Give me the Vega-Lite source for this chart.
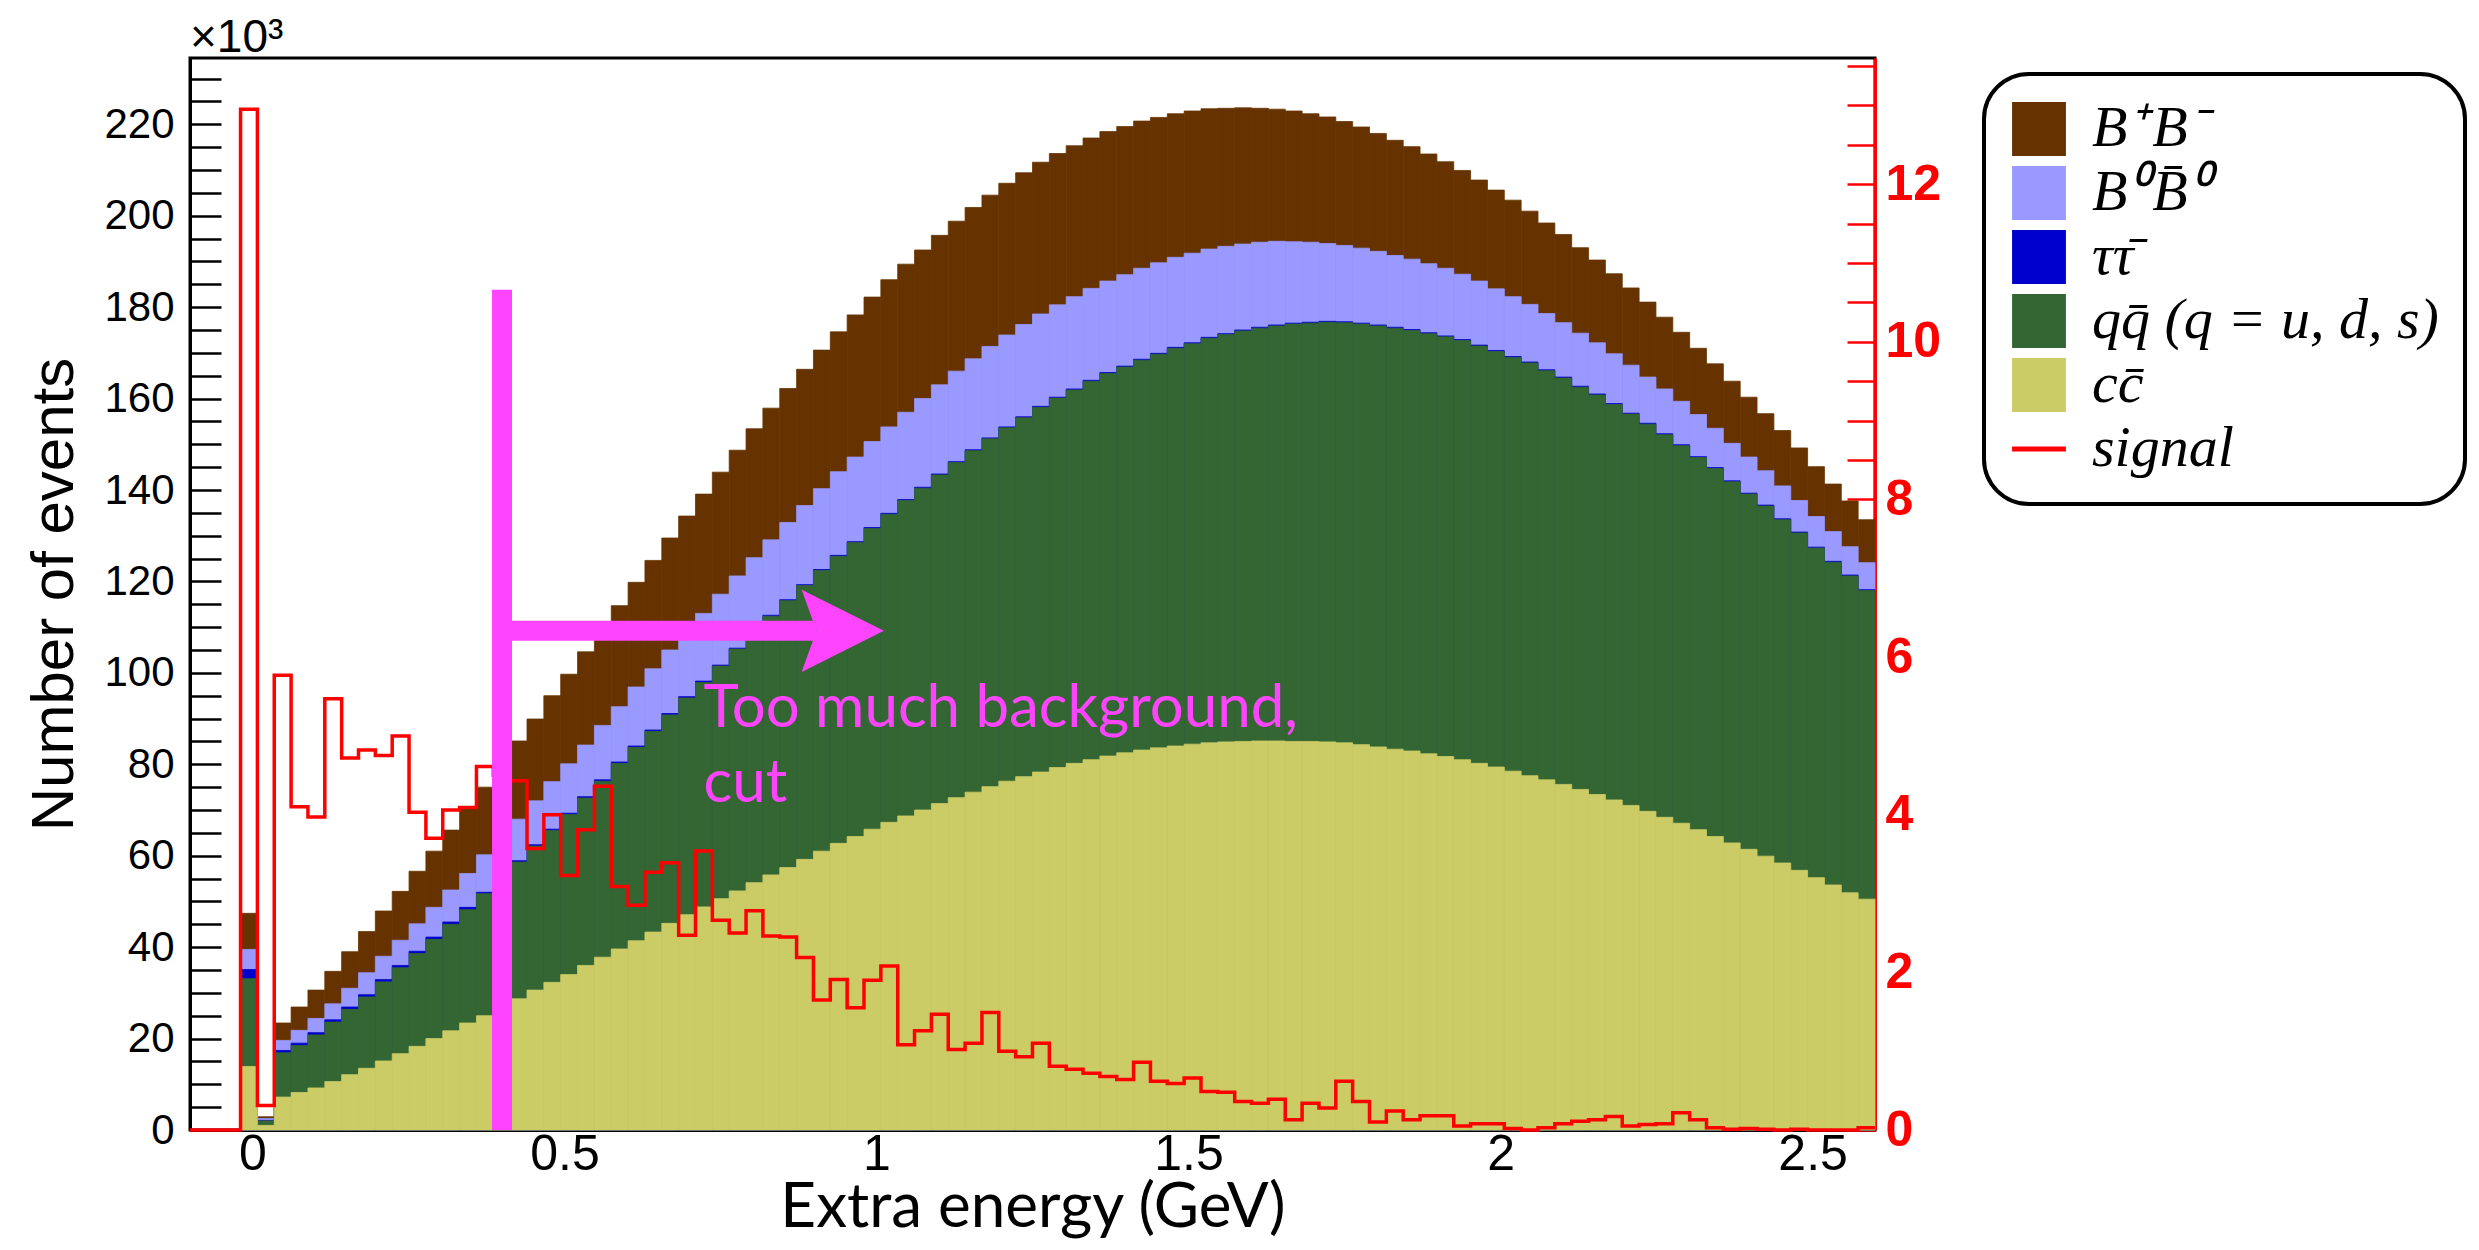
{
"$schema": "https://vega.github.io/schema/vega-lite/v6.json",
"width": 1685, "height": 1072,
"autosize": {"type": "none"},
"padding": {"left": 190, "top": 58, "right": 604, "bottom": 120},
"background": "white",
"config": {
  "view": {"stroke": "black", "strokeWidth": 3},
  "axis": {"grid": false, "labelOverlap": false, "labelFlush": false, "labelBound": false, "zindex": 1}
},
"datasets": {
"bins": [
{"lo":-0.019,"hi":0.008,"BpBm":47.4,"B0B0bar":39.5,"tautau":35.1,"qqbar":33.1,"ccbar":13.9},
{"lo":0.008,"hi":0.035,"BpBm":2.9,"B0B0bar":2.5,"tautau":2.1,"qqbar":2.0,"ccbar":1.0},
{"lo":0.035,"hi":0.062,"BpBm":23.4,"B0B0bar":19.6,"tautau":17.4,"qqbar":16.9,"ccbar":7.2},
{"lo":0.062,"hi":0.089,"BpBm":26.9,"B0B0bar":21.8,"tautau":19.0,"qqbar":18.5,"ccbar":8.2},
{"lo":0.089,"hi":0.116,"BpBm":30.6,"B0B0bar":24.4,"tautau":21.3,"qqbar":20.8,"ccbar":9.2},
{"lo":0.116,"hi":0.143,"BpBm":34.7,"B0B0bar":27.6,"tautau":24.1,"qqbar":23.6,"ccbar":10.6},
{"lo":0.143,"hi":0.17,"BpBm":39.0,"B0B0bar":31.0,"tautau":26.9,"qqbar":26.4,"ccbar":12.1},
{"lo":0.17,"hi":0.197,"BpBm":43.4,"B0B0bar":34.4,"tautau":29.6,"qqbar":29.1,"ccbar":13.5},
{"lo":0.197,"hi":0.224,"BpBm":47.9,"B0B0bar":38.0,"tautau":32.9,"qqbar":32.4,"ccbar":15.1},
{"lo":0.224,"hi":0.251,"BpBm":52.2,"B0B0bar":41.5,"tautau":36.0,"qqbar":35.5,"ccbar":16.7},
{"lo":0.251,"hi":0.278,"BpBm":56.6,"B0B0bar":45.1,"tautau":39.1,"qqbar":38.6,"ccbar":18.3},
{"lo":0.278,"hi":0.305,"BpBm":61.0,"B0B0bar":48.7,"tautau":42.2,"qqbar":41.7,"ccbar":20.0},
{"lo":0.305,"hi":0.332,"BpBm":65.6,"B0B0bar":52.5,"tautau":45.5,"qqbar":45.0,"ccbar":21.7},
{"lo":0.332,"hi":0.359,"BpBm":70.3,"B0B0bar":56.1,"tautau":48.7,"qqbar":48.2,"ccbar":23.4},
{"lo":0.359,"hi":0.386,"BpBm":75.0,"B0B0bar":60.2,"tautau":52.0,"qqbar":51.7,"ccbar":25.0},
{"lo":0.386,"hi":0.413,"BpBm":80.0,"B0B0bar":64.1,"tautau":55.5,"qqbar":55.2,"ccbar":26.9},
{"lo":0.413,"hi":0.44,"BpBm":85.1,"B0B0bar":68.0,"tautau":58.9,"qqbar":58.6,"ccbar":28.7},
{"lo":0.44,"hi":0.467,"BpBm":89.9,"B0B0bar":72.0,"tautau":62.4,"qqbar":62.1,"ccbar":30.6},
{"lo":0.467,"hi":0.494,"BpBm":95.0,"B0B0bar":76.2,"tautau":65.8,"qqbar":65.5,"ccbar":32.3},
{"lo":0.494,"hi":0.521,"BpBm":99.7,"B0B0bar":80.1,"tautau":69.3,"qqbar":69.0,"ccbar":34.0},
{"lo":0.521,"hi":0.548,"BpBm":104.6,"B0B0bar":84.2,"tautau":72.9,"qqbar":72.6,"ccbar":36.0},
{"lo":0.548,"hi":0.575,"BpBm":109.5,"B0B0bar":88.5,"tautau":76.6,"qqbar":76.3,"ccbar":37.8},
{"lo":0.575,"hi":0.602,"BpBm":114.7,"B0B0bar":92.6,"tautau":80.5,"qqbar":80.2,"ccbar":39.6},
{"lo":0.602,"hi":0.629,"BpBm":119.8,"B0B0bar":96.9,"tautau":84.0,"qqbar":83.7,"ccbar":41.4},
{"lo":0.629,"hi":0.656,"BpBm":124.6,"B0B0bar":100.9,"tautau":87.5,"qqbar":87.2,"ccbar":43.3},
{"lo":0.656,"hi":0.683,"BpBm":129.5,"B0B0bar":105.0,"tautau":91.1,"qqbar":90.8,"ccbar":45.2},
{"lo":0.683,"hi":0.71,"BpBm":134.3,"B0B0bar":109.1,"tautau":94.8,"qqbar":94.5,"ccbar":47.1},
{"lo":0.71,"hi":0.737,"BpBm":139.1,"B0B0bar":113.0,"tautau":98.2,"qqbar":97.9,"ccbar":48.8},
{"lo":0.737,"hi":0.764,"BpBm":143.9,"B0B0bar":117.2,"tautau":101.7,"qqbar":101.5,"ccbar":50.6},
{"lo":0.764,"hi":0.791,"BpBm":148.7,"B0B0bar":121.2,"tautau":105.4,"qqbar":105.2,"ccbar":52.3},
{"lo":0.791,"hi":0.818,"BpBm":153.4,"B0B0bar":125.2,"tautau":109.1,"qqbar":108.9,"ccbar":54.1},
{"lo":0.818,"hi":0.845,"BpBm":157.9,"B0B0bar":129.1,"tautau":112.6,"qqbar":112.4,"ccbar":55.8},
{"lo":0.845,"hi":0.872,"BpBm":162.2,"B0B0bar":132.9,"tautau":116.0,"qqbar":115.8,"ccbar":57.4},
{"lo":0.872,"hi":0.899,"BpBm":166.4,"B0B0bar":136.6,"tautau":119.3,"qqbar":119.1,"ccbar":59.2},
{"lo":0.899,"hi":0.926,"BpBm":170.6,"B0B0bar":140.3,"tautau":122.6,"qqbar":122.4,"ccbar":61.0},
{"lo":0.926,"hi":0.953,"BpBm":174.6,"B0B0bar":144.0,"tautau":125.7,"qqbar":125.5,"ccbar":62.7},
{"lo":0.953,"hi":0.98,"BpBm":178.3,"B0B0bar":147.2,"tautau":128.7,"qqbar":128.5,"ccbar":64.2},
{"lo":0.98,"hi":1.007,"BpBm":182.2,"B0B0bar":150.6,"tautau":131.8,"qqbar":131.6,"ccbar":65.8},
{"lo":1.007,"hi":1.034,"BpBm":186.0,"B0B0bar":153.8,"tautau":134.9,"qqbar":134.7,"ccbar":67.3},
{"lo":1.034,"hi":1.061,"BpBm":189.4,"B0B0bar":157.0,"tautau":137.9,"qqbar":137.7,"ccbar":68.7},
{"lo":1.061,"hi":1.088,"BpBm":192.5,"B0B0bar":160.0,"tautau":140.6,"qqbar":140.4,"ccbar":70.0},
{"lo":1.088,"hi":1.115,"BpBm":195.7,"B0B0bar":163.0,"tautau":143.5,"qqbar":143.3,"ccbar":71.4},
{"lo":1.115,"hi":1.142,"BpBm":198.8,"B0B0bar":166.0,"tautau":146.2,"qqbar":146.0,"ccbar":72.7},
{"lo":1.142,"hi":1.169,"BpBm":201.8,"B0B0bar":168.7,"tautau":148.8,"qqbar":148.6,"ccbar":73.9},
{"lo":1.169,"hi":1.196,"BpBm":204.5,"B0B0bar":171.4,"tautau":151.4,"qqbar":151.2,"ccbar":75.1},
{"lo":1.196,"hi":1.223,"BpBm":207.1,"B0B0bar":173.9,"tautau":153.8,"qqbar":153.6,"ccbar":76.3},
{"lo":1.223,"hi":1.25,"BpBm":209.4,"B0B0bar":176.2,"tautau":156.0,"qqbar":155.8,"ccbar":77.3},
{"lo":1.25,"hi":1.277,"BpBm":211.7,"B0B0bar":178.5,"tautau":158.3,"qqbar":158.1,"ccbar":78.3},
{"lo":1.277,"hi":1.304,"BpBm":213.6,"B0B0bar":180.5,"tautau":160.3,"qqbar":160.1,"ccbar":79.3},
{"lo":1.304,"hi":1.331,"BpBm":215.3,"B0B0bar":182.3,"tautau":162.1,"qqbar":161.9,"ccbar":80.2},
{"lo":1.331,"hi":1.358,"BpBm":217.0,"B0B0bar":184.1,"tautau":164.0,"qqbar":163.8,"ccbar":81.0},
{"lo":1.358,"hi":1.385,"BpBm":218.4,"B0B0bar":185.7,"tautau":165.7,"qqbar":165.5,"ccbar":81.8},
{"lo":1.385,"hi":1.412,"BpBm":219.5,"B0B0bar":187.1,"tautau":167.1,"qqbar":166.9,"ccbar":82.5},
{"lo":1.412,"hi":1.439,"BpBm":220.7,"B0B0bar":188.5,"tautau":168.6,"qqbar":168.4,"ccbar":83.1},
{"lo":1.439,"hi":1.466,"BpBm":221.5,"B0B0bar":189.7,"tautau":169.9,"qqbar":169.7,"ccbar":83.6},
{"lo":1.466,"hi":1.493,"BpBm":222.3,"B0B0bar":190.9,"tautau":171.2,"qqbar":171.0,"ccbar":84.0},
{"lo":1.493,"hi":1.52,"BpBm":222.9,"B0B0bar":191.8,"tautau":172.2,"qqbar":172.0,"ccbar":84.4},
{"lo":1.52,"hi":1.547,"BpBm":223.4,"B0B0bar":192.7,"tautau":173.4,"qqbar":173.2,"ccbar":84.7},
{"lo":1.547,"hi":1.574,"BpBm":223.5,"B0B0bar":193.3,"tautau":174.2,"qqbar":174.0,"ccbar":84.9},
{"lo":1.574,"hi":1.601,"BpBm":223.6,"B0B0bar":193.8,"tautau":175.0,"qqbar":174.8,"ccbar":85.0},
{"lo":1.601,"hi":1.628,"BpBm":223.5,"B0B0bar":194.2,"tautau":175.6,"qqbar":175.4,"ccbar":85.1},
{"lo":1.628,"hi":1.655,"BpBm":223.3,"B0B0bar":194.4,"tautau":176.1,"qqbar":175.9,"ccbar":85.1},
{"lo":1.655,"hi":1.682,"BpBm":222.9,"B0B0bar":194.3,"tautau":176.5,"qqbar":176.3,"ccbar":85.0},
{"lo":1.682,"hi":1.709,"BpBm":222.3,"B0B0bar":194.2,"tautau":176.7,"qqbar":176.5,"ccbar":85.0},
{"lo":1.709,"hi":1.736,"BpBm":221.6,"B0B0bar":193.9,"tautau":176.9,"qqbar":176.7,"ccbar":84.9},
{"lo":1.736,"hi":1.763,"BpBm":220.6,"B0B0bar":193.5,"tautau":176.8,"qqbar":176.6,"ccbar":84.7},
{"lo":1.763,"hi":1.79,"BpBm":219.4,"B0B0bar":192.9,"tautau":176.5,"qqbar":176.3,"ccbar":84.3},
{"lo":1.79,"hi":1.817,"BpBm":218.0,"B0B0bar":192.2,"tautau":176.1,"qqbar":175.9,"ccbar":83.8},
{"lo":1.817,"hi":1.844,"BpBm":216.5,"B0B0bar":191.3,"tautau":175.6,"qqbar":175.4,"ccbar":83.3},
{"lo":1.844,"hi":1.871,"BpBm":215.1,"B0B0bar":190.5,"tautau":175.1,"qqbar":174.9,"ccbar":82.9},
{"lo":1.871,"hi":1.898,"BpBm":213.5,"B0B0bar":189.5,"tautau":174.4,"qqbar":174.2,"ccbar":82.3},
{"lo":1.898,"hi":1.925,"BpBm":211.8,"B0B0bar":188.5,"tautau":173.7,"qqbar":173.5,"ccbar":81.7},
{"lo":1.925,"hi":1.952,"BpBm":209.9,"B0B0bar":187.2,"tautau":172.9,"qqbar":172.7,"ccbar":81.0},
{"lo":1.952,"hi":1.979,"BpBm":207.8,"B0B0bar":185.7,"tautau":171.7,"qqbar":171.5,"ccbar":80.2},
{"lo":1.979,"hi":2.006,"BpBm":205.6,"B0B0bar":184.0,"tautau":170.5,"qqbar":170.3,"ccbar":79.4},
{"lo":2.006,"hi":2.033,"BpBm":203.4,"B0B0bar":182.3,"tautau":169.2,"qqbar":169.0,"ccbar":78.5},
{"lo":2.033,"hi":2.06,"BpBm":201.0,"B0B0bar":180.6,"tautau":168.0,"qqbar":167.8,"ccbar":77.5},
{"lo":2.06,"hi":2.087,"BpBm":198.4,"B0B0bar":178.6,"tautau":166.3,"qqbar":166.1,"ccbar":76.6},
{"lo":2.087,"hi":2.114,"BpBm":195.9,"B0B0bar":176.6,"tautau":164.7,"qqbar":164.5,"ccbar":75.6},
{"lo":2.114,"hi":2.141,"BpBm":193.0,"B0B0bar":174.3,"tautau":162.7,"qqbar":162.5,"ccbar":74.5},
{"lo":2.141,"hi":2.168,"BpBm":190.3,"B0B0bar":172.2,"tautau":161.0,"qqbar":160.8,"ccbar":73.4},
{"lo":2.168,"hi":2.195,"BpBm":187.3,"B0B0bar":169.8,"tautau":158.9,"qqbar":158.7,"ccbar":72.2},
{"lo":2.195,"hi":2.222,"BpBm":184.2,"B0B0bar":167.3,"tautau":156.8,"qqbar":156.6,"ccbar":71.0},
{"lo":2.222,"hi":2.249,"BpBm":181.1,"B0B0bar":164.7,"tautau":154.6,"qqbar":154.4,"ccbar":69.7},
{"lo":2.249,"hi":2.276,"BpBm":177.8,"B0B0bar":162.1,"tautau":152.3,"qqbar":152.1,"ccbar":68.4},
{"lo":2.276,"hi":2.303,"BpBm":174.5,"B0B0bar":159.4,"tautau":149.9,"qqbar":149.7,"ccbar":67.1},
{"lo":2.303,"hi":2.33,"BpBm":171.0,"B0B0bar":156.5,"tautau":147.3,"qqbar":147.1,"ccbar":65.7},
{"lo":2.33,"hi":2.357,"BpBm":167.6,"B0B0bar":153.5,"tautau":144.9,"qqbar":144.7,"ccbar":64.2},
{"lo":2.357,"hi":2.384,"BpBm":163.8,"B0B0bar":150.2,"tautau":142.0,"qqbar":141.8,"ccbar":62.8},
{"lo":2.384,"hi":2.411,"BpBm":160.3,"B0B0bar":147.2,"tautau":139.3,"qqbar":139.1,"ccbar":61.4},
{"lo":2.411,"hi":2.438,"BpBm":156.7,"B0B0bar":144.2,"tautau":136.7,"qqbar":136.5,"ccbar":59.9},
{"lo":2.438,"hi":2.465,"BpBm":153.0,"B0B0bar":140.9,"tautau":133.7,"qqbar":133.5,"ccbar":58.4},
{"lo":2.465,"hi":2.492,"BpBm":149.2,"B0B0bar":137.7,"tautau":130.8,"qqbar":130.6,"ccbar":56.8},
{"lo":2.492,"hi":2.519,"BpBm":145.1,"B0B0bar":134.2,"tautau":127.5,"qqbar":127.3,"ccbar":55.2},
{"lo":2.519,"hi":2.546,"BpBm":141.3,"B0B0bar":130.9,"tautau":124.4,"qqbar":124.2,"ccbar":53.6},
{"lo":2.546,"hi":2.573,"BpBm":137.6,"B0B0bar":127.6,"tautau":121.4,"qqbar":121.2,"ccbar":51.9},
{"lo":2.573,"hi":2.6,"BpBm":133.5,"B0B0bar":124.1,"tautau":118.2,"qqbar":118.0,"ccbar":50.5}
],
"signal": [
{"e":-0.1,"s":0},{"e":-0.019,"s":12.95},{"e":0.008,"s":0.31},{"e":0.035,"s":5.77},{"e":0.062,"s":4.10},{"e":0.089,"s":3.97},{"e":0.116,"s":5.47},{"e":0.143,"s":4.72},{"e":0.17,"s":4.82},{"e":0.197,"s":4.75},{"e":0.224,"s":5.00},{"e":0.251,"s":4.03},{"e":0.278,"s":3.70},{"e":0.305,"s":4.06},{"e":0.332,"s":4.09},{"e":0.359,"s":4.61},{"e":0.386,"s":4.50},{"e":0.413,"s":4.43},{"e":0.44,"s":3.57},{"e":0.467,"s":4.00},{"e":0.494,"s":3.23},{"e":0.521,"s":3.81},{"e":0.548,"s":4.36},{"e":0.575,"s":3.09},{"e":0.602,"s":2.85},{"e":0.629,"s":3.27},{"e":0.656,"s":3.39},{"e":0.683,"s":2.47},{"e":0.71,"s":3.54},{"e":0.737,"s":2.66},{"e":0.764,"s":2.50},{"e":0.791,"s":2.78},{"e":0.818,"s":2.46},{"e":0.845,"s":2.45},{"e":0.872,"s":2.19},{"e":0.899,"s":1.65},{"e":0.926,"s":1.91},{"e":0.953,"s":1.55},{"e":0.98,"s":1.90},{"e":1.007,"s":2.08},{"e":1.034,"s":1.08},{"e":1.061,"s":1.26},{"e":1.088,"s":1.47},{"e":1.115,"s":1.02},{"e":1.142,"s":1.10},{"e":1.169,"s":1.49},{"e":1.196,"s":1.00},{"e":1.223,"s":0.93},{"e":1.25,"s":1.10},{"e":1.277,"s":0.81},{"e":1.304,"s":0.77},{"e":1.331,"s":0.72},{"e":1.358,"s":0.68},{"e":1.385,"s":0.64},{"e":1.412,"s":0.86},{"e":1.439,"s":0.62},{"e":1.466,"s":0.59},{"e":1.493,"s":0.66},{"e":1.52,"s":0.49},{"e":1.547,"s":0.48},{"e":1.574,"s":0.36},{"e":1.601,"s":0.34},{"e":1.628,"s":0.39},{"e":1.655,"s":0.13},{"e":1.682,"s":0.34},{"e":1.709,"s":0.28},{"e":1.736,"s":0.62},{"e":1.763,"s":0.36},{"e":1.79,"s":0.10},{"e":1.817,"s":0.24},{"e":1.844,"s":0.13},{"e":1.871,"s":0.18},{"e":1.898,"s":0.18},{"e":1.925,"s":0.05},{"e":1.952,"s":0.08},{"e":1.979,"s":0.08},{"e":2.006,"s":0.02},{"e":2.033,"s":0.0},{"e":2.06,"s":0.03},{"e":2.087,"s":0.08},{"e":2.114,"s":0.11},{"e":2.141,"s":0.13},{"e":2.168,"s":0.17},{"e":2.195,"s":0.05},{"e":2.222,"s":0.07},{"e":2.249,"s":0.08},{"e":2.276,"s":0.22},{"e":2.303,"s":0.13},{"e":2.33,"s":0.03},{"e":2.357,"s":0.01},{"e":2.384,"s":0.02},{"e":2.411,"s":0.01},{"e":2.438,"s":0.0},{"e":2.465,"s":0.01},{"e":2.492,"s":0.0},{"e":2.519,"s":0.0},{"e":2.546,"s":0.0},{"e":2.573,"s":0.03},{"e":2.6,"s":0.03}
]
},
"layer": [
{
  "data": {"name": "bins"},
  "transform": [{"fold": ["BpBm"], "as": ["component", "stack_top"]}],
  "mark": {"type": "bar", "strokeWidth": 0.8},
  "encoding": {
    "x": {"field": "lo", "type": "quantitative", "scale": {"domain": [-0.1, 2.6], "nice": false, "zero": false},
      "axis": {"title": "Extra energy (GeV)", "values": [0,0.1,0.2,0.3,0.4,0.5,0.6,0.7,0.8,0.9,1,1.1,1.2,1.3,1.4,1.5,1.6,1.7,1.8,1.9,2,2.1,2.2,2.3,2.4,2.5],
        "labelExpr": "abs(datum.value*2 - round(datum.value*2)) < 0.001 ? format(datum.value, '~g') : ''",
        "tickSize": -13, "labelPadding": 12, "tickColor": "black", "tickWidth": 2.5, "domainColor": "black", "domainWidth": 3,
        "labelFont": "Liberation Sans", "labelFontSize": 50, "labelColor": "black",
        "titleFont": "Lato", "titleFontSize": 62, "titleFontWeight": "normal", "titleColor": "black", "titlePadding": -2,
        "encode": {"ticks": {
          "update": {"y2": {"signal": "abs(datum.value*2 - round(datum.value*2)) < 0.001 ? -26 : -13"}},
          "y2": {"value": {"expr": "abs(datum.value*2 - round(datum.value*2)) < 0.001 ? -26 : -13"}}}}}},
    "x2": {"field": "hi"},
    "y": {"field": "stack_top", "type": "quantitative", "stack": null, "scale": {"domain": [0, 234.5], "nice": false, "zero": true},
      "axis": {"orient": "left", "title": "Number of events", "values": [0,5,10,15,20,25,30,35,40,45,50,55,60,65,70,75,80,85,90,95,100,105,110,115,120,125,130,135,140,145,150,155,160,165,170,175,180,185,190,195,200,205,210,215,220,225,230],
        "labelExpr": "datum.value % 20 === 0 ? format(datum.value, 'd') : ''",
        "tickSize": -31, "labelPadding": 47, "tickColor": "black", "tickWidth": 2.5, "domainColor": "black", "domainWidth": 3,
        "labelFont": "Liberation Sans", "labelFontSize": 42, "labelColor": "black",
        "titleFont": "Liberation Sans", "titleFontSize": 60, "titleFontWeight": "normal", "titleColor": "black", "titlePadding": 18,
        "encode": {"ticks": {
          "update": {"x2": {"signal": "datum.value % 20 === 0 ? 62 : 31"}},
          "x2": {"value": {"expr": "datum.value % 20 === 0 ? 62 : 31"}}}}}},
    "y2": {"datum": 0},
    "color": {"field": "component", "type": "nominal",
      "scale": {"domain": ["BpBm", "B0B0bar", "tautau", "qqbar", "ccbar", "signal"], "range": ["#663300", "#9999FF", "#0000CC", "#336633", "#CCCC66", "#FF0000"]},
      "legend": {"orient": "none", "legendX": 1794, "legendY": 16, "title": null, "direction": "vertical",
        "padding": 26, "cornerRadius": 45, "strokeColor": "black", "fillColor": "white", "rowPadding": 6,
        "symbolSize": 2900, "labelOffset": 24, "labelLimit": 0,
        "labelFont": "Liberation Serif", "labelFontStyle": "italic", "labelFontSize": 58, "labelColor": "black",
        "labelExpr": "datum.value === 'BpBm' ? 'B⁺\u200aB⁻' : datum.value === 'B0B0bar' ? 'B⁰\u200aB̄⁰' : datum.value === 'tautau' ? 'ττ̄' : datum.value === 'qqbar' ? 'qq̄ (q = u, d, s)' : datum.value === 'ccbar' ? 'cc̄' : 'signal'",
        "encode": {
          "legend": {"update": {"strokeWidth": {"value": 4}}, "strokeWidth": {"value": 4}},
          "symbols": {"update": {
            "shape": {"signal": "datum.value === 'signal' ? 'stroke' : 'square'"},
            "fill": {"signal": "datum.value === 'signal' ? 'transparent' : scale('color', datum.value)"},
            "stroke": {"signal": "scale('color', datum.value)"},
            "strokeWidth": {"signal": "datum.value === 'signal' ? 5 : 0"},
            "size": {"value": 2900},
            "opacity": {"value": 1}},
            "shape": {"value": {"expr": "datum.value === 'signal' ? 'stroke' : 'square'"}},
            "fill": {"value": {"expr": "datum.value === 'signal' ? 'transparent' : scale('color', datum.value)"}},
            "stroke": {"value": {"expr": "scale('color', datum.value)"}},
            "strokeWidth": {"value": {"expr": "datum.value === 'signal' ? 5 : 0"}},
            "size": {"value": 2900},
            "opacity": {"value": 1}}}}},
    "stroke": {"field": "component", "type": "nominal", "legend": null,
      "scale": {"domain": ["BpBm", "B0B0bar", "tautau", "qqbar", "ccbar"], "range": ["#663300", "#9999FF", "#0000CC", "#336633", "#CCCC66"]}}
  }
},
{
  "data": {"name": "bins"},
  "transform": [{"fold": ["B0B0bar"], "as": ["component", "stack_top"]}],
  "mark": {"type": "bar", "strokeWidth": 0.8},
  "encoding": {
    "x": {"field": "lo", "type": "quantitative", "scale": {"domain": [-0.1, 2.6], "nice": false, "zero": false}},
    "x2": {"field": "hi"},
    "y": {"field": "stack_top", "type": "quantitative", "stack": null, "scale": {"domain": [0, 234.5], "nice": false, "zero": true}, "axis": null},
    "y2": {"datum": 0},
    "color": {"field": "component", "type": "nominal"},
    "stroke": {"field": "component", "type": "nominal", "legend": null}
  }
},
{
  "data": {"name": "bins"},
  "transform": [{"fold": ["tautau"], "as": ["component", "stack_top"]}],
  "mark": {"type": "bar", "strokeWidth": 0.8},
  "encoding": {
    "x": {"field": "lo", "type": "quantitative", "scale": {"domain": [-0.1, 2.6], "nice": false, "zero": false}},
    "x2": {"field": "hi"},
    "y": {"field": "stack_top", "type": "quantitative", "stack": null, "scale": {"domain": [0, 234.5], "nice": false, "zero": true}, "axis": null},
    "y2": {"datum": 0},
    "color": {"field": "component", "type": "nominal"},
    "stroke": {"field": "component", "type": "nominal", "legend": null}
  }
},
{
  "data": {"name": "bins"},
  "transform": [{"fold": ["qqbar"], "as": ["component", "stack_top"]}],
  "mark": {"type": "bar", "strokeWidth": 0.8},
  "encoding": {
    "x": {"field": "lo", "type": "quantitative", "scale": {"domain": [-0.1, 2.6], "nice": false, "zero": false}},
    "x2": {"field": "hi"},
    "y": {"field": "stack_top", "type": "quantitative", "stack": null, "scale": {"domain": [0, 234.5], "nice": false, "zero": true}, "axis": null},
    "y2": {"datum": 0},
    "color": {"field": "component", "type": "nominal"},
    "stroke": {"field": "component", "type": "nominal", "legend": null}
  }
},
{
  "data": {"name": "bins"},
  "transform": [{"fold": ["ccbar"], "as": ["component", "stack_top"]}],
  "mark": {"type": "bar", "strokeWidth": 0.8},
  "encoding": {
    "x": {"field": "lo", "type": "quantitative", "scale": {"domain": [-0.1, 2.6], "nice": false, "zero": false}},
    "x2": {"field": "hi"},
    "y": {"field": "stack_top", "type": "quantitative", "stack": null, "scale": {"domain": [0, 234.5], "nice": false, "zero": true}, "axis": null},
    "y2": {"datum": 0},
    "color": {"field": "component", "type": "nominal"},
    "stroke": {"field": "component", "type": "nominal", "legend": null}
  }
},
{
  "data": {"name": "signal"},
  "mark": {"type": "line", "interpolate": "step-after", "strokeWidth": 3.5, "strokeJoin": "miter", "strokeCap": "butt"},
  "encoding": {
    "x": {"field": "e", "type": "quantitative", "scale": {"domain": [-0.1, 2.6], "nice": false, "zero": false}},
    "y": {"field": "s", "type": "quantitative", "scale": {"domain": [0, 13.6], "nice": false, "zero": true},
      "axis": {"orient": "right", "title": null, "values": [0,0.5,1,1.5,2,2.5,3,3.5,4,4.5,5,5.5,6,6.5,7,7.5,8,8.5,9,9.5,10,10.5,11,11.5,12,12.5,13,13.5],
        "labelExpr": "datum.value % 2 === 0 ? format(datum.value, 'd') : ''",
        "tickSize": -28, "labelPadding": 38, "tickColor": "#FF0000", "tickWidth": 2.5, "domainColor": "#FF0000", "domainWidth": 3,
        "labelFont": "Liberation Sans", "labelFontSize": 50, "labelFontWeight": "bold", "labelColor": "#FF0000",
        "encode": {"ticks": {
          "update": {"x2": {"signal": "datum.value % 2 === 0 ? -60 : -28"}},
          "x2": {"value": {"expr": "datum.value % 2 === 0 ? -60 : -28"}}}}}},
    "color": {"datum": "signal", "type": "nominal"}
  }
},
{
  "layer": [
    {
      "data": {"values": [{"cut": 0.4, "k0": 0, "k1": 183.8}]},
      "mark": {"type": "rule", "color": "#FF44FF", "strokeWidth": 20, "strokeCap": "butt"},
      "encoding": {
        "x": {"field": "cut", "type": "quantitative", "scale": {"domain": [-0.1, 2.6], "nice": false, "zero": false}},
        "y": {"field": "k0", "type": "quantitative", "scale": {"domain": [0, 234.5], "nice": false, "zero": true}, "axis": null},
        "y2": {"field": "k1"}
      }
    },
    {
      "data": {"values": [{"x0": 0.4, "x1": 0.904, "k": 109.2}]},
      "mark": {"type": "rule", "color": "#FF44FF", "strokeWidth": 20, "strokeCap": "butt"},
      "encoding": {
        "x": {"field": "x0", "type": "quantitative", "scale": {"domain": [-0.1, 2.6], "nice": false, "zero": false}},
        "x2": {"field": "x1"},
        "y": {"field": "k", "type": "quantitative", "scale": {"domain": [0, 234.5], "nice": false, "zero": true}, "axis": null}
      }
    },
    {
      "data": {"values": [{"xt": 0.946, "k": 109.2}]},
      "mark": {"type": "point", "shape": "M-1,-1L1,0L-1,1L-0.64,0Z", "filled": true, "color": "#FF44FF", "opacity": 1, "size": 6760, "strokeWidth": 0},
      "encoding": {
        "x": {"field": "xt", "type": "quantitative", "scale": {"domain": [-0.1, 2.6], "nice": false, "zero": false}},
        "y": {"field": "k", "type": "quantitative", "scale": {"domain": [0, 234.5], "nice": false, "zero": true}, "axis": null}
      }
    },
    {
      "data": {"values": [{"t": "Too much background,", "xt": 0.723, "k": 88.25}, {"t": "cut", "xt": 0.723, "k": 71.8}]},
      "mark": {"type": "text", "align": "left", "baseline": "alphabetic", "font": "Lato", "fontSize": 60, "color": "#FF44FF"},
      "encoding": {
        "x": {"field": "xt", "type": "quantitative", "scale": {"domain": [-0.1, 2.6], "nice": false, "zero": false}},
        "y": {"field": "k", "type": "quantitative", "scale": {"domain": [0, 234.5], "nice": false, "zero": true}, "axis": null},
        "text": {"field": "t"}
      }
    },
    {
      "data": {"values": [{"t": "×10³", "xt": -0.1, "k": 234.5}]},
      "mark": {"type": "text", "align": "left", "baseline": "alphabetic", "dy": -6, "font": "Liberation Sans", "fontSize": 46, "color": "black"},
      "encoding": {
        "x": {"field": "xt", "type": "quantitative", "scale": {"domain": [-0.1, 2.6], "nice": false, "zero": false}},
        "y": {"field": "k", "type": "quantitative", "scale": {"domain": [0, 234.5], "nice": false, "zero": true}, "axis": null},
        "text": {"field": "t"}
      }
    }
  ]
}
],
"resolve": {"scale": {"y": "independent"}}
}
